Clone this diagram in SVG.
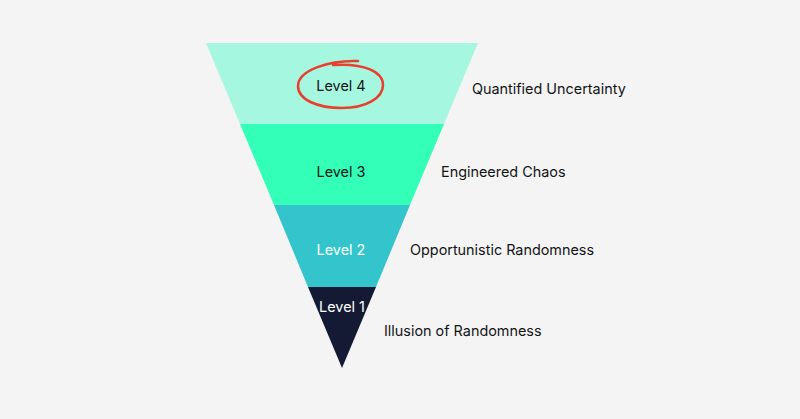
<svg xmlns="http://www.w3.org/2000/svg" width="800" height="419" viewBox="0 0 800 419">
<style>
.lv{font-family:"Inter","Liberation Sans",sans-serif;font-size:14.4px;text-anchor:middle}
.lb{font-family:"Inter","Liberation Sans",sans-serif;font-size:14.4px;fill:#141414}
</style>
<rect width="800" height="419" fill="#F4F4F4"/>
<g id="level4">
<polygon points="206,43 478,43 444,124 240,124" fill="#A6F7E0"/>
<text class="lv" x="341" y="91" fill="#141414">Level 4</text>
<path d="M358 61 C330 60,298 70,298 86 C298 100,318 108,342 108 C366 108,383 98,383 85 C383 72,365 63,333 65" fill="none" stroke="#E8402F" stroke-width="2.5" stroke-linecap="round"/>
</g>
<g id="level3">
<polygon points="240,124 444,124 410,205 274,205" fill="#33FFB8"/>
<text class="lv" x="341" y="177" fill="#141414">Level 3</text>
</g>
<g id="level2">
<polygon points="274,205 410,205 376,287 308,287" fill="#33C4CC"/>
<text class="lv" x="341" y="255" fill="#FFFFFF">Level 2</text>
</g>
<g id="level1">
<polygon points="308,287 376,287 342,368" fill="#141A33"/>
<text class="lv" x="342" y="312" fill="#FFFFFF">Level 1</text>
</g>
<g id="labels">
<text class="lb" x="472" y="94">Quantified Uncertainty</text>
<text class="lb" x="441" y="177">Engineered Chaos</text>
<text class="lb" x="410" y="255">Opportunistic Randomness</text>
<text class="lb" x="384" y="336">Illusion of Randomness</text>
</g>
<g id="connectors"></g>
</svg>
